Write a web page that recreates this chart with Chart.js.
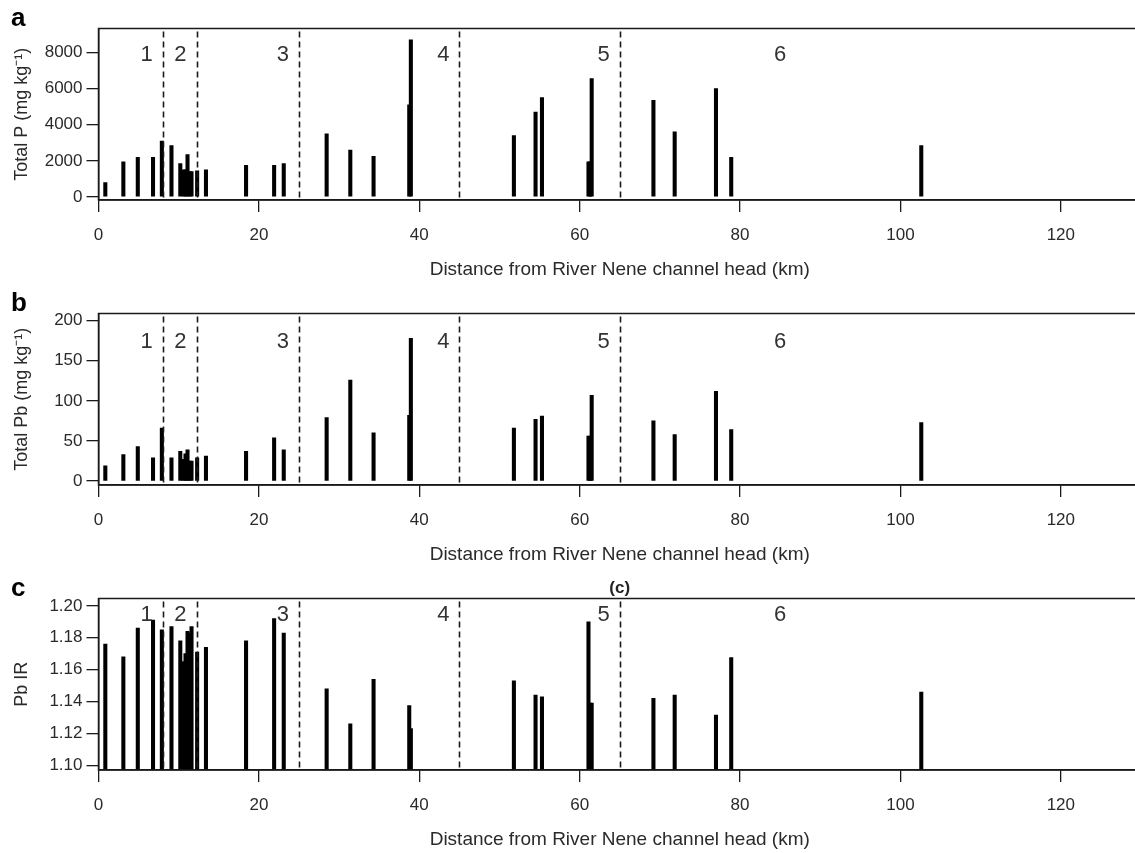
<!DOCTYPE html>
<html><head><meta charset="utf-8">
<script src="https://cdn.jsdelivr.net/npm/chart.js@4.4.1/dist/chart.umd.min.js"></script>
<style>
html,body{margin:0;padding:0;background:#fff;overflow:hidden;width:1135px;height:853px;position:relative;}
.panel{position:absolute;left:0;width:1145px;height:285px;}
canvas{display:block;}
</style></head><body>
<div class="panel" style="top:0px"><canvas id="ca" width="1145" height="285"></canvas></div>
<div class="panel" style="top:285px"><canvas id="cb" width="1145" height="285"></canvas></div>
<div class="panel" style="top:570px"><canvas id="cc" width="1145" height="285"></canvas></div>
<script>
// ---- data ----
const distanceKm = [0.85, 3.1, 4.9, 6.8, 7.9, 9.1, 10.2, 10.6, 10.85, 11.1, 11.35, 11.6, 12.3, 13.4, 18.4, 21.9, 23.1, 28.45, 31.4, 34.3, 38.75, 38.95, 51.8, 54.5, 55.3, 61.1, 61.3, 61.5, 69.2, 71.85, 77.0, 78.9, 102.6];
const totalP = [800, 1950, 2200, 2200, 3100, 2850, 1850, 1500, 1500, 2350, 1400, 1400, 1450, 1500, 1750, 1750, 1850, 3500, 2600, 2250, 5100, 8700, 3400, 4700, 5500, 1950, 1950, 6550, 5350, 3600, 6000, 2200, 2850];
const totalPb = [19, 33, 43, 29, 66, 29, 37, 27, 34, 39, 25, 25, 29, 31, 37, 54, 39, 79, 126, 60, 82, 178, 66, 77, 81, 56, 56, 107, 75, 58, 112, 64, 73];
const pbIR = [1.176, 1.168, 1.186, 1.191, 1.185, 1.187, 1.178, 1.165, 1.170, 1.184, 1.183, 1.187, 1.171, 1.174, 1.178, 1.192, 1.183, 1.148, 1.126, 1.154, 1.1375, 1.123, 1.153, 1.144, 1.143, 1.190, 1.139, 1.139, 1.142, 1.144, 1.1315, 1.1675, 1.146];
const xTicks = [0, 20, 40, 60, 80, 100, 120];
const pTicks = [0, 2000, 4000, 6000, 8000];
const pbTicks = [0, 50, 100, 150, 200];
const irTicks = [1.10, 1.12, 1.14, 1.16, 1.18, 1.20];
const zoneBounds = [8, 12.3, 25, 45, 65];
const zoneLabels = ['1', '2', '3', '4', '5', '6'];
const zoneLabelKm = [6, 10.2, 23, 43, 63, 85];
const xTitle = 'Distance from River Nene channel head (km)';

// ---- styling ----
const FONT = '"Liberation Sans", Arial, Helvetica, sans-serif';
const INK = '#1a1a1a';
const TXT = '#2a2a2a';

function makePanel(id, opts) {
  const overlay = {
    id: 'overlay_' + id,
    afterDatasetsDraw(chart) {
      const {ctx, chartArea: a, scales: {x, y}} = chart;
      ctx.save();
      ctx.strokeStyle = INK; ctx.lineWidth = 1.6; ctx.setLineDash([6, 4]);
      zoneBounds.forEach(b => {
        const px = Math.round(x.getPixelForValue(b)) + 0.5;
        ctx.beginPath(); ctx.moveTo(px, a.top + 3); ctx.lineTo(px, a.bottom); ctx.stroke();
      });
      ctx.setLineDash([]);
      ctx.fillStyle = '#333'; ctx.font = '22px ' + FONT;
      ctx.textAlign = 'center'; ctx.textBaseline = 'middle';
      zoneLabels.forEach((t, i) => {
        ctx.fillText(t, x.getPixelForValue(zoneLabelKm[i]), opts.zoneY);
      });
      ctx.strokeStyle = INK; ctx.lineWidth = 1.5;
      ctx.strokeRect(a.left, a.top, a.right - a.left, a.bottom - a.top);
      ctx.fillStyle = '#000'; ctx.font = 'bold 26px ' + FONT;
      ctx.textAlign = 'left'; ctx.textBaseline = 'alphabetic';
      ctx.fillText(opts.letter, 11, 26);
      if (opts.title) {
        ctx.font = 'bold 17px ' + FONT; ctx.textAlign = 'center'; ctx.textBaseline = 'middle';
        ctx.fillStyle = '#222';
        ctx.fillText(opts.title, (a.left + a.right) / 2, 18);
      }
      ctx.restore();
    }
  };
  const ds = {
    data: distanceKm.map((d, i) => ({x: d, y: opts.values[i]})),
    backgroundColor: '#000',
    borderWidth: 0,
    barThickness: 3.4,
    grouped: false
  };
  if (opts.base !== undefined) ds.base = opts.base;
  return new Chart(document.getElementById(id), {
    type: 'bar',
    data: {datasets: [ds]},
    plugins: [overlay],
    options: {
      responsive: false, animation: false, devicePixelRatio: 1,
      layout: {padding: {top: 28.5, right: 4, left: 0, bottom: 0}},
      plugins: {legend: {display: false}, tooltip: {enabled: false}},
      scales: {
        x: {
          type: 'linear', min: 0, max: 130, offset: false,
          afterBuildTicks: s => { s.ticks = xTicks.map(v => ({value: v})); },
          afterFit: s => { s.height = 85; },
          grid: {offset: false, drawOnChartArea: false, drawTicks: true, tickLength: 12, color: INK, lineWidth: 1.3},
          border: {display: true, color: INK, width: 1.5},
          ticks: {padding: 13, maxRotation: 0, autoSkip: false, color: TXT, font: {family: FONT, size: 17}},
          title: {display: true, text: xTitle, color: TXT, font: {family: FONT, size: 19}, padding: {bottom: 3.6, top: 0}}
        },
        y: {
          min: opts.min, max: opts.max,
          afterBuildTicks: s => { s.ticks = opts.ticks.map(v => ({value: v})); },
          afterFit: s => { s.width = 98.5; },
          grid: {drawOnChartArea: false, drawTicks: true, tickLength: 12, color: INK, lineWidth: 1.3},
          border: {display: true, color: INK, width: 1.5},
          ticks: {padding: 4, color: TXT, font: {family: FONT, size: 17}, callback: opts.fmt},
          title: {display: true, text: opts.yTitle, color: TXT, font: {family: FONT, size: 18}, padding: {top: 11, bottom: 0}}
        }
      }
    }
  });
}

makePanel('ca', {letter: 'a', values: totalP, min: -170, max: 9330, ticks: pTicks,
  fmt: v => String(v), yTitle: 'Total P (mg kg\u207B\u00B9)', zoneY: 55});
makePanel('cb', {letter: 'b', values: totalPb, min: -5, max: 209, ticks: pbTicks,
  fmt: v => String(v), yTitle: 'Total Pb (mg kg\u207B\u00B9)', zoneY: 57});
makePanel('cc', {letter: 'c', values: pbIR, min: 1.0971, max: 1.2046, ticks: irTicks, base: 1.0971,
  fmt: v => v.toFixed(2), yTitle: 'Pb IR', zoneY: 45, title: '(c)'});
</script>
</body></html>
